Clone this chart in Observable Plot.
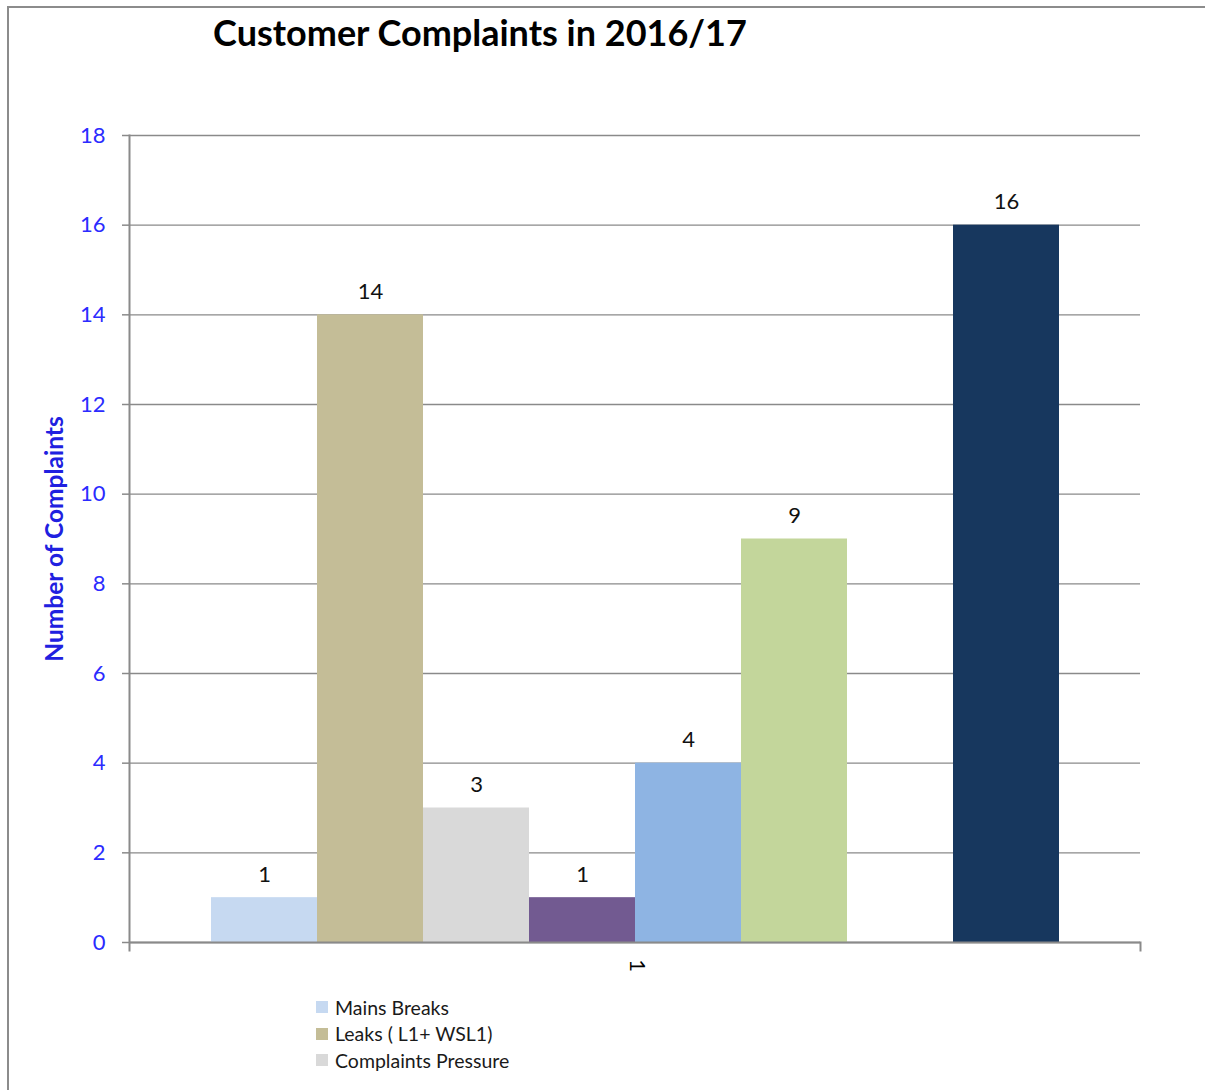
<!DOCTYPE html>
<html>
<head>
<meta charset="utf-8">
<script src="https://cdn.jsdelivr.net/npm/d3@7"></script>
<script src="https://cdn.jsdelivr.net/npm/@observablehq/plot@0.6"></script>
<style>
  html, body { margin: 0; padding: 0; background: #fff; }
  #wrap { position: relative; width: 1205px; height: 1090px; overflow: hidden; font-family: Lato, "Open Sans", sans-serif; }
  #border { position: absolute; left: 7px; top: 6px; right: 0; bottom: 0; border-top: 2px solid #8c8c8c; border-left: 2px solid #8c8c8c; }
  #title { position: absolute; left: 0; width: 960px; top: 10px; text-align: center; font-size: 36px; font-weight: bold; color: #000; }
  #chart { position: absolute; left: 0; top: 60px; }
  #legend { position: absolute; left: 316px; top: 994px; font-size: 19.5px; color: #1a1a1a; }
  .item { display: flex; align-items: center; height: 26.5px; }
  .sw { width: 12px; height: 12px; margin-right: 7px; }
</style>
</head>
<body>
<div id="wrap">
  <div id="border"></div>
  <div id="title"></div>
  <div id="chart"></div>
  <div id="legend"></div>
</div>
<script>
const title = "Customer Complaints in 2016/17";
const category = "1";
const seriesNames = ["Mains Breaks", "Leaks ( L1+ WSL1)", "Complaints Pressure", "Series 4", "Series 5", "Series 6", "Series 7", "Series 8"];
const seriesValues = [1, 14, 3, 1, 4, 9, 0, 16];
const seriesColors = ["#c6d9f1", "#c4bd97", "#d9d9d9", "#725a91", "#8eb4e3", "#c3d69b", "#f9b880", "#17375e"];
const legendShown = ["Mains Breaks", "Leaks ( L1+ WSL1)", "Complaints Pressure"];
const yTicks = [0, 2, 4, 6, 8, 10, 12, 14, 16, 18];
const yLabel = "Number of Complaints";

const data = seriesNames.map((s, i) => ({category, series: s, value: seriesValues[i]}));

document.getElementById("title").textContent = title;

const W = 1205, H = 930, mT = 75, mB = 48, mL = 129, mR = 65;
const plotH = H - mT - mB;

const chart = Plot.plot({
  width: W,
  height: H,
  marginTop: mT,
  marginBottom: mB,
  marginLeft: mL,
  marginRight: mR,
  style: {fontFamily: "Lato, 'Open Sans', sans-serif", background: "transparent"},
  x: {domain: seriesNames, padding: 0, insetLeft: 81, insetRight: 80, axis: null},
  y: {domain: [0, 18], ticks: yTicks, axis: null},
  color: {domain: seriesNames, range: seriesColors},
  marks: [
    Plot.gridY(yTicks, {stroke: "#8a8a8a", strokeOpacity: 1, strokeWidth: 1.3}),
    Plot.barY(data, {x: "series", y: "value", fill: "series"}),
    Plot.frame({anchor: "left", stroke: "#8a8a8a", strokeWidth: 2, insetBottom: -8}),
    Plot.frame({anchor: "right", stroke: "#8a8a8a", strokeWidth: 2, insetTop: plotH, insetBottom: -8}),
    Plot.ruleY([0], {stroke: "#8a8a8a", strokeWidth: 2}),
    Plot.axisY(yTicks, {
      tickSize: 7, tickPadding: 17, stroke: "#8a8a8a", strokeWidth: 1.5,
      fill: "#2b2bff", fontSize: 22,
      label: yLabel, labelAnchor: "center", labelArrow: "none", labelOffset: 84
    }),
    Plot.text(data.filter(d => d.value > 0), {
      x: "series", y: "value", text: d => String(d.value),
      dy: -23, fontSize: 22, fill: "#111"
    }),
    Plot.text([category], {text: d => d, frameAnchor: "bottom", dx: -5, dy: 23, rotate: 90, fontSize: 22, fill: "#000"})
  ]
});

// style axis label
chart.querySelectorAll("[aria-label='y-axis label'] text, [aria-label='y-axis label']").forEach(el => {
  el.setAttribute("fill", "#2020e0");
  el.setAttribute("font-size", "24.5");
  el.setAttribute("font-weight", "bold");
});

document.getElementById("chart").appendChild(chart);

const legend = document.getElementById("legend");
legendShown.forEach(name => {
  const i = seriesNames.indexOf(name);
  const item = document.createElement("div");
  item.className = "item";
  const sw = document.createElement("span");
  sw.className = "sw";
  sw.style.background = seriesColors[i];
  const t = document.createElement("span");
  t.textContent = name;
  item.appendChild(sw);
  item.appendChild(t);
  legend.appendChild(item);
});
</script>
</body>
</html>
